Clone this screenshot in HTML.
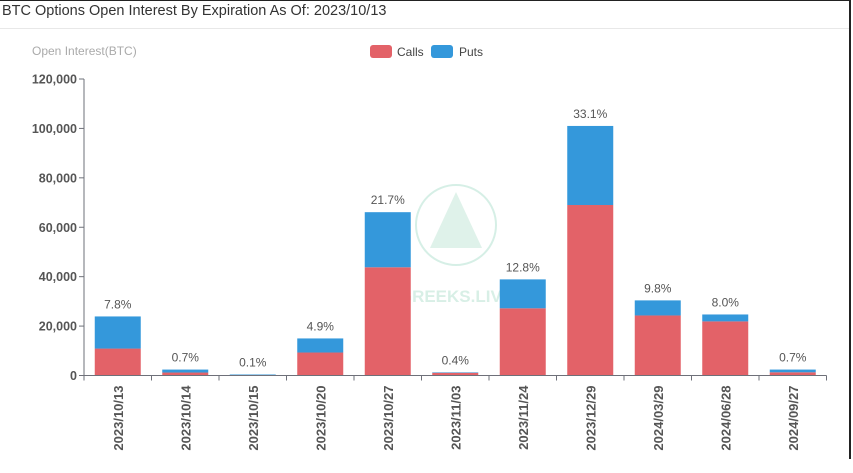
<!DOCTYPE html>
<html><head><meta charset="utf-8"><style>
html,body{margin:0;padding:0;background:#fff;}
body{width:853px;height:473px;overflow:hidden;position:relative;font-family:"Liberation Sans",sans-serif;}
#title{position:absolute;left:2px;top:3px;font-size:14.5px;color:#333;}
#sep{position:absolute;left:0;top:28px;width:850px;height:1px;background:#e8e8e8;}
#frame{position:absolute;left:0;top:0;width:849px;height:458px;border-top:1px solid #222;border-right:2px solid #222;pointer-events:none}
</style></head><body>
<div id="title">BTC Options Open Interest By Expiration As Of: 2023/10/13</div>
<div id="sep"></div>
<svg id="chart" width="853" height="473" style="position:absolute;left:0;top:0"></svg>
<div id="frame"></div>
<script>
const categories=["2023/10/13","2023/10/14","2023/10/15","2023/10/20","2023/10/27","2023/11/03","2023/11/24","2023/12/29","2024/03/29","2024/06/28","2024/09/27"];
const calls=[10900,1200,200,9300,43800,1100,27200,69000,24300,21900,1300];
const puts=[13000,1200,200,5700,22300,200,11700,32000,6100,2800,1100];
const pctLabels=["7.8%","0.7%","0.1%","4.9%","21.7%","0.4%","12.8%","33.1%","9.8%","8.0%","0.7%"];
const yTicks=[0,20000,40000,60000,80000,100000,120000];
const NS="http://www.w3.org/2000/svg";
const svg=document.getElementById('chart');
const x0=84,x1=826.5,y0=375.5,yTop=79,yMax=120000;
const band=(x1-x0)/categories.length,bw=46;
const Y=v=>y0-(v/yMax)*(y0-yTop);
const X=i=>x0+band*i+band/2;
function mk(t,a){const e=document.createElementNS(NS,t);for(const k in a)e.setAttribute(k,a[k]);svg.appendChild(e);return e;}
let t=mk('text',{x:32,y:55,'font-size':12,fill:'#aaa'});t.textContent='Open Interest(BTC)';

let g=mk('rect',{x:370,y:45,width:22,height:13,rx:3,fill:'#e36268'});

t=mk('text',{x:397,y:56,'font-size':12,fill:'#444'});t.textContent='Calls';

g=mk('rect',{x:431,y:45,width:22,height:13,rx:3,fill:'#3498db'});

t=mk('text',{x:459,y:56,'font-size':12,fill:'#444'});t.textContent='Puts';

mk('line',{x1:x0,y1:yTop,x2:x0,y2:y0,stroke:'#6e7079'});
yTicks.forEach(v=>{
  const y=Y(v);
  const l=mk('line',{x1:x0-5,y1:y,x2:x0,y2:y,stroke:'#6e7079'});
  
  const tt=mk('text',{x:x0-7,y:y+4.5,'font-size':12.5,'font-weight':'bold',fill:'#555','text-anchor':'end'});
  tt.textContent=v.toLocaleString('en-US');
  
  
});
mk('circle',{cx:456,cy:225,r:40,fill:'none',stroke:'#d6efe6','stroke-width':2});
mk('polygon',{points:'456,192 430,248 482,248',fill:'#dff2ea'});
t=mk('text',{x:456,y:302,'font-size':17,'font-weight':'bold',fill:'#d8efe6','text-anchor':'middle'});t.textContent='GREEKS.LIVE';

categories.forEach((c,i)=>{
  const cx=X(i);
  const r1=mk('rect',{x:cx-bw/2,y:Y(calls[i]),width:bw,height:y0-Y(calls[i]),fill:'#e36268'});
  
  
  const tot=calls[i]+puts[i];
  const r2=mk('rect',{x:cx-bw/2,y:Y(tot),width:bw,height:Y(calls[i])-Y(tot),fill:'#3498db'});
  
  
  const pl=mk('text',{x:cx,y:Y(tot)-8,'font-size':12,fill:'#555','text-anchor':'middle'});
  pl.textContent=pctLabels[i];
  
  
  const tk=mk('line',{x1:x0+band*i,y1:y0,x2:x0+band*i,y2:y0+5,stroke:'#6e7079'});
  
  const xl=mk('text',{x:0,y:0,'font-size':13,'font-weight':'bold',fill:'#555','text-anchor':'end',transform:`translate(${cx+5},${y0+10}) rotate(-90)`});
  xl.textContent=c;
  
  
});
mk('line',{x1:x1,y1:y0,x2:x1,y2:y0+5,stroke:'#6e7079'});
mk('line',{x1:x0,y1:y0,x2:x1,y2:y0,stroke:'#6e7079'});
</script>
</body></html>
